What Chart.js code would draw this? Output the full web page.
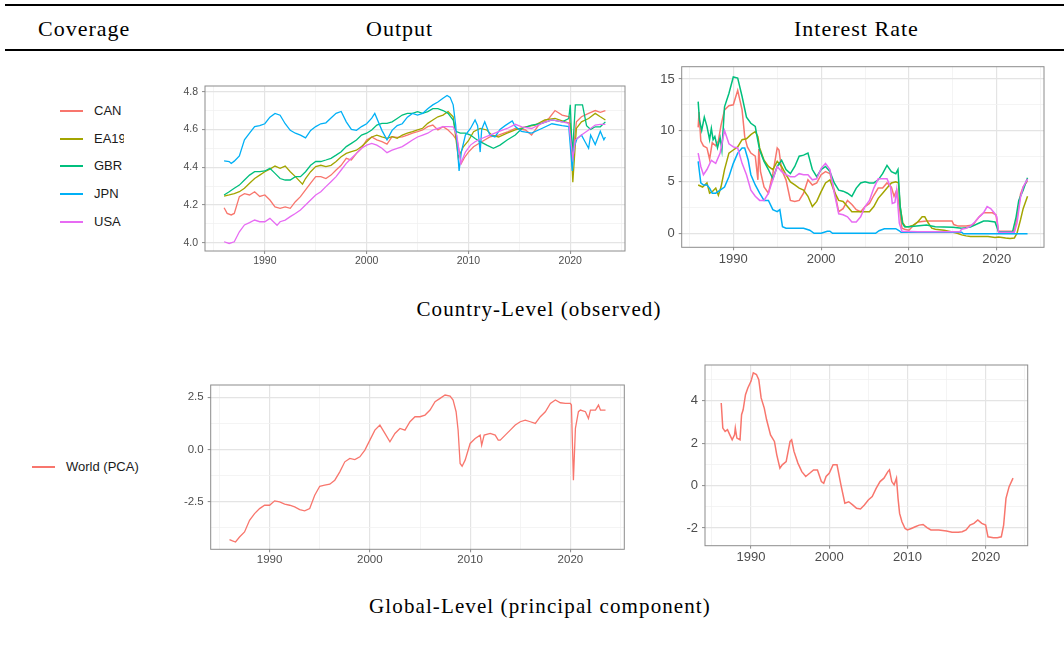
<!DOCTYPE html>
<html>
<head>
<meta charset="utf-8">
<script src="https://cdn.jsdelivr.net/npm/chart.js@4.4.1/dist/chart.umd.min.js"></script>
<style>
  body { margin: 0; background: #fff; width: 1064px; height: 659px; position: relative; overflow: hidden; font-family: "Liberation Serif", serif; }
  .rule { position: absolute; left: 5px; right: 0; background: #000; }
  .head, .caption { position: absolute; font-size: 21px; line-height: 21px; letter-spacing: 1.1px; color: #000; white-space: nowrap; }
  .head { font-size: 22px; line-height: 22px; letter-spacing: 1px; }
  .caption { transform: translateX(-50%); }
  canvas { position: absolute; }
  .legend { position: absolute; overflow: hidden; font-family: "Liberation Sans", sans-serif; font-size: 13px; color: #1a1a1a; }
  .legend .item { position: absolute; left: 0; height: 16px; width: 200px; }
  .legend .key { position: absolute; left: 0; top: 7px; width: 23px; height: 2px; }
  .legend .lab { position: absolute; left: 34px; top: 0; line-height: 16px; white-space: nowrap; }
</style>
</head>
<body>
<div class="rule" style="top:4px;height:2px"></div>
<div class="rule" style="top:49px;height:1.5px"></div>
<div class="head" style="left:38px;top:18px">Coverage</div>
<div class="head" style="left:366px;top:18px">Output</div>
<div class="head" style="left:794px;top:18px">Interest Rate</div>
<div class="caption" style="left:539px;top:299px">Country-Level (observed)</div>
<div class="caption" style="left:540px;top:596px">Global-Level (principal component)</div>

<div id="legendCountry" class="legend" style="left:60px;top:103px;width:64px;height:130px"></div>
<div id="legendWorld" class="legend" style="left:32px;top:459px;width:111px;height:18px"></div>

<canvas id="outCountry"></canvas>
<canvas id="rateCountry"></canvas>
<canvas id="outWorld"></canvas>
<canvas id="rateWorld"></canvas>

<script>
// ---- data ----
const countries = ['CAN', 'EA19', 'GBR', 'JPN', 'USA'];
const countryColors = ['#F8766D', '#A3A500', '#00BF7D', '#00B0F6', '#E76BF3'];
const worldName = 'World (PCA)';
const worldColor = '#F8766D';

// tick positions: every value gets a grid line, only the "labels" ones get text
const yearTicks = [1985, 1990, 1995, 2000, 2005, 2010, 2015, 2020, 2025];
const yearLabels = [1990, 2000, 2010, 2020];
const outputTicks = [4.0, 4.1, 4.2, 4.3, 4.4, 4.5, 4.6, 4.7, 4.8];
const outputLabels = [4.0, 4.2, 4.4, 4.6, 4.8];
const rateTicks = [0, 2.5, 5, 7.5, 10, 12.5, 15];
const rateLabels = [0, 5, 10, 15];
const pcaOutputTicks = [-3.75, -2.5, -1.25, 0, 1.25, 2.5];
const pcaOutputLabels = [-2.5, 0, 2.5];
const pcaRateTicks = [-2, -1, 0, 1, 2, 3, 4, 5];
const pcaRateLabels = [-2, 0, 2, 4];

// log output, [year, value]
const outputCAN = [[1986.0,4.185],[1986.3,4.155],[1986.7,4.147],[1987.0,4.155],[1987.5,4.244],[1988.0,4.26],[1988.5,4.253],[1989.0,4.27],[1989.5,4.245],[1990.0,4.253],[1990.5,4.226],[1991.0,4.19],[1991.5,4.182],[1992.0,4.19],[1992.5,4.182],[1993.0,4.217],[1993.5,4.244],[1994.0,4.28],[1994.5,4.315],[1995.0,4.35],[1995.5,4.35],[1996.0,4.34],[1996.5,4.358],[1997.0,4.385],[1997.5,4.41],[1998.0,4.447],[1998.5,4.438],[1999.0,4.473],[1999.5,4.50],[2000.0,4.544],[2000.5,4.56],[2001.0,4.545],[2001.5,4.535],[2002.0,4.522],[2002.5,4.562],[2003.0,4.558],[2003.5,4.56],[2004.0,4.57],[2004.5,4.58],[2005.0,4.588],[2005.5,4.597],[2006.0,4.615],[2006.5,4.623],[2007.0,4.597],[2007.5,4.615],[2008.0,4.597],[2008.5,4.57],[2008.9,4.54],[2009.3,4.42],[2009.6,4.45],[2010.0,4.48],[2010.5,4.508],[2011.3,4.535],[2012.1,4.56],[2012.95,4.57],[2013.9,4.588],[2014.6,4.605],[2015.6,4.597],[2016.2,4.57],[2016.9,4.623],[2017.9,4.658],[2018.5,4.70],[2019.2,4.676],[2019.9,4.667],[2020.25,4.47],[2020.6,4.64],[2021.1,4.667],[2021.8,4.685],[2022.45,4.70],[2022.95,4.69],[2023.45,4.70]];
const outputEA19 = [[1986.0,4.247],[1986.5,4.253],[1987.0,4.26],[1987.5,4.27],[1988.0,4.288],[1988.5,4.315],[1989.0,4.34],[1989.5,4.358],[1990.0,4.376],[1990.5,4.39],[1991.0,4.406],[1991.5,4.394],[1992.0,4.406],[1992.5,4.376],[1993.0,4.35],[1993.7,4.31],[1994.0,4.34],[1994.5,4.376],[1995.0,4.403],[1995.5,4.41],[1996.0,4.403],[1996.5,4.41],[1997.0,4.43],[1997.5,4.455],[1998.0,4.473],[1998.5,4.482],[1999.0,4.49],[1999.5,4.51],[2000.0,4.535],[2000.5,4.56],[2001.0,4.57],[2001.5,4.56],[2002.0,4.553],[2002.5,4.562],[2003.0,4.553],[2003.5,4.57],[2004.0,4.58],[2004.5,4.588],[2005.0,4.597],[2005.5,4.606],[2006.0,4.632],[2006.5,4.65],[2007.0,4.667],[2007.5,4.676],[2008.0,4.695],[2008.5,4.667],[2009.0,4.45],[2009.5,4.508],[2010.0,4.54],[2010.5,4.588],[2011.15,4.605],[2011.8,4.597],[2012.3,4.57],[2012.95,4.56],[2013.8,4.58],[2014.6,4.597],[2015.6,4.614],[2016.55,4.623],[2017.5,4.65],[2018.5,4.658],[2019.5,4.64],[2020.0,4.632],[2020.25,4.32],[2020.6,4.605],[2021.1,4.64],[2021.8,4.658],[2022.45,4.685],[2022.95,4.667],[2023.45,4.65]];
const outputGBR = [[1986.0,4.253],[1986.5,4.27],[1987.0,4.288],[1987.5,4.305],[1988.0,4.332],[1988.5,4.358],[1989.0,4.376],[1989.5,4.376],[1990.0,4.38],[1990.5,4.394],[1991.0,4.367],[1991.5,4.34],[1992.0,4.332],[1992.5,4.332],[1993.0,4.35],[1993.5,4.35],[1994.0,4.376],[1994.5,4.41],[1995.0,4.43],[1995.5,4.43],[1996.0,4.438],[1996.5,4.447],[1997.0,4.464],[1997.5,4.482],[1998.0,4.509],[1998.5,4.526],[1999.0,4.544],[1999.5,4.57],[2000.0,4.58],[2000.5,4.597],[2001.0,4.623],[2001.5,4.632],[2002.0,4.632],[2002.5,4.64],[2003.0,4.658],[2003.5,4.676],[2004.0,4.685],[2004.5,4.685],[2005.0,4.694],[2005.5,4.685],[2006.0,4.694],[2006.5,4.71],[2007.0,4.71],[2007.5,4.70],[2008.0,4.685],[2008.5,4.65],[2008.75,4.59],[2009.2,4.58],[2009.7,4.58],[2010.2,4.57],[2010.65,4.552],[2011.15,4.535],[2011.8,4.517],[2012.45,4.50],[2013.1,4.517],[2013.8,4.544],[2014.6,4.57],[2015.25,4.605],[2016.2,4.623],[2017.2,4.632],[2018.2,4.65],[2019.2,4.64],[2019.85,4.658],[2020.0,4.73],[2020.2,4.46],[2020.5,4.73],[2021.2,4.73],[2021.6,4.62],[2022.0,4.60],[2022.45,4.614],[2022.95,4.614],[2023.45,4.64]];
const outputJPN = [[1986.0,4.433],[1986.5,4.43],[1986.7,4.42],[1987.0,4.432],[1987.5,4.46],[1988.0,4.545],[1988.5,4.58],[1989.0,4.615],[1989.5,4.62],[1990.0,4.63],[1990.5,4.665],[1991.0,4.685],[1991.5,4.675],[1992.0,4.63],[1992.5,4.595],[1993.0,4.58],[1993.5,4.57],[1994.0,4.555],[1994.5,4.595],[1995.0,4.615],[1995.5,4.63],[1996.0,4.635],[1996.5,4.66],[1997.0,4.685],[1997.5,4.695],[1998.0,4.64],[1998.5,4.60],[1999.0,4.595],[1999.5,4.615],[2000.0,4.63],[2000.5,4.66],[2000.8,4.685],[2001.5,4.595],[2002.0,4.545],[2002.5,4.595],[2003.0,4.62],[2003.5,4.63],[2004.0,4.665],[2004.5,4.685],[2005.0,4.676],[2005.5,4.685],[2006.0,4.71],[2006.5,4.73],[2007.0,4.745],[2007.5,4.765],[2007.9,4.78],[2008.2,4.77],[2008.5,4.73],[2008.75,4.62],[2009.08,4.38],[2009.3,4.48],[2009.7,4.57],[2010.2,4.605],[2010.65,4.65],[2010.9,4.62],[2011.15,4.48],[2011.3,4.60],[2011.6,4.64],[2012.1,4.57],[2012.6,4.56],[2013.1,4.60],[2013.6,4.62],[2014.3,4.645],[2014.6,4.615],[2015.2,4.59],[2016.2,4.58],[2017.2,4.605],[2018.2,4.63],[2019.2,4.62],[2019.85,4.615],[2020.2,4.38],[2020.35,4.50],[2020.65,4.55],[2021.1,4.57],[2021.4,4.54],[2021.8,4.50],[2022.0,4.57],[2022.45,4.52],[2022.95,4.59],[2023.3,4.545],[2023.45,4.56]];
const outputUSA = [[1986.0,4.005],[1986.5,3.996],[1987.0,4.005],[1987.5,4.058],[1988.0,4.094],[1988.5,4.106],[1989.0,4.12],[1989.5,4.111],[1990.0,4.111],[1990.5,4.129],[1991.2,4.092],[1991.5,4.111],[1992.0,4.12],[1992.5,4.138],[1993.0,4.155],[1993.5,4.173],[1994.0,4.2],[1994.5,4.226],[1995.0,4.253],[1995.5,4.27],[1996.0,4.297],[1996.5,4.323],[1997.0,4.35],[1997.5,4.385],[1998.0,4.42],[1998.5,4.447],[1999.0,4.473],[1999.5,4.50],[2000.0,4.517],[2000.5,4.526],[2001.0,4.517],[2001.5,4.50],[2002.0,4.477],[2002.5,4.49],[2003.0,4.50],[2003.5,4.509],[2004.0,4.526],[2004.5,4.544],[2005.0,4.56],[2005.5,4.57],[2006.0,4.58],[2006.5,4.597],[2007.0,4.606],[2007.5,4.615],[2008.0,4.615],[2008.5,4.614],[2008.85,4.57],[2009.25,4.42],[2009.7,4.48],[2010.2,4.517],[2010.65,4.535],[2011.3,4.552],[2012.1,4.57],[2012.95,4.588],[2013.8,4.605],[2014.6,4.627],[2015.25,4.614],[2016.2,4.605],[2017.2,4.632],[2018.2,4.65],[2019.2,4.64],[2019.85,4.632],[2020.25,4.45],[2020.5,4.544],[2021.1,4.57],[2021.8,4.597],[2022.45,4.623],[2022.95,4.627],[2023.45,4.627]];

// short-term interest rates (%), [year, value]
const rateCAN = [[1986.0,10.3],[1986.1,11.8],[1986.3,9.0],[1986.6,8.5],[1987.0,8.3],[1987.3,7.2],[1987.6,8.8],[1988.0,8.5],[1988.3,9.0],[1988.6,10.5],[1989.0,12.0],[1989.5,12.4],[1990.0,12.5],[1990.5,13.9],[1991.0,12.0],[1991.3,9.4],[1991.6,8.4],[1992.0,7.8],[1992.5,7.5],[1992.8,5.2],[1992.9,8.2],[1993.1,6.0],[1993.5,4.5],[1994.0,3.9],[1994.5,5.8],[1995.0,8.3],[1995.2,8.1],[1995.5,6.2],[1996.0,5.2],[1996.5,3.2],[1997.0,3.1],[1997.5,3.2],[1998.0,3.9],[1998.5,5.2],[1999.0,4.7],[1999.5,4.9],[2000.0,5.7],[2000.5,6.0],[2001.0,5.8],[2001.5,4.2],[2002.0,2.1],[2002.5,2.4],[2003.0,3.2],[2003.5,2.8],[2004.0,2.3],[2004.5,2.1],[2005.0,2.6],[2005.5,2.9],[2006.0,3.7],[2006.5,4.4],[2007.0,4.4],[2007.5,4.9],[2008.0,4.5],[2008.3,3.6],[2008.6,4.2],[2008.9,2.6],[2009.2,0.5],[2009.5,0.4],[2010.0,0.3],[2010.5,0.75],[2011.0,1.1],[2012.0,1.2],[2013.0,1.2],[2014.0,1.2],[2014.9,1.2],[2015.1,0.85],[2015.6,0.7],[2016.5,0.7],[2017.3,0.8],[2017.7,1.3],[2018.0,1.6],[2018.5,2.0],[2019.0,2.0],[2019.5,2.0],[2019.9,1.8],[2020.2,0.2],[2021.0,0.2],[2022.0,0.2],[2022.3,1.5],[2022.7,3.8],[2023.0,4.5],[2023.5,5.1]];
const rateEA19 = [[1986.0,4.7],[1986.5,4.5],[1987.0,4.9],[1987.3,3.9],[1987.6,4.05],[1988.0,4.4],[1988.3,3.7],[1988.6,4.5],[1989.0,6.2],[1989.5,7.8],[1990.0,8.1],[1990.5,8.4],[1991.0,9.1],[1991.5,9.2],[1992.0,9.6],[1992.5,9.9],[1992.8,9.4],[1993.0,8.3],[1993.5,7.1],[1994.0,6.5],[1994.5,6.2],[1995.0,7.0],[1995.5,6.5],[1996.0,5.7],[1996.5,5.0],[1997.0,4.7],[1997.5,4.4],[1998.0,4.2],[1998.5,3.6],[1999.0,2.6],[1999.5,3.1],[2000.0,4.05],[2000.5,4.9],[2001.0,5.2],[2001.5,4.05],[2002.0,3.2],[2002.5,3.1],[2003.0,2.6],[2003.5,2.1],[2004.0,2.1],[2005.0,2.1],[2005.5,2.1],[2006.0,2.6],[2006.5,3.4],[2007.0,3.9],[2007.5,4.4],[2008.0,4.9],[2008.5,5.0],[2008.8,4.9],[2009.0,2.6],[2009.3,1.0],[2009.6,0.65],[2010.0,0.65],[2010.5,0.8],[2011.0,1.1],[2011.5,1.6],[2011.8,1.6],[2012.2,1.0],[2012.6,0.5],[2013.0,0.4],[2014.0,0.3],[2014.8,0.15],[2015.5,0.0],[2016.0,-0.15],[2016.5,-0.25],[2017.0,-0.32],[2019.0,-0.32],[2019.8,-0.4],[2020.2,-0.35],[2021.0,-0.45],[2021.5,-0.5],[2022.0,-0.45],[2022.3,0.0],[2022.7,1.3],[2023.0,2.4],[2023.5,3.6]];
const rateGBR = [[1986.0,12.8],[1986.15,11.0],[1986.4,10.0],[1986.7,11.3],[1987.0,10.4],[1987.3,9.1],[1987.5,10.2],[1987.7,9.1],[1987.9,9.4],[1988.2,8.3],[1988.5,9.3],[1988.7,8.1],[1989.0,12.3],[1989.5,13.6],[1990.0,15.2],[1990.5,15.1],[1991.0,13.3],[1991.5,11.3],[1992.0,10.7],[1992.5,10.4],[1992.75,9.2],[1993.0,8.1],[1993.5,7.0],[1994.0,6.2],[1994.5,5.3],[1995.0,6.5],[1995.5,7.1],[1996.0,6.2],[1996.5,5.8],[1997.0,6.5],[1997.5,7.5],[1998.0,7.6],[1998.5,7.8],[1999.0,6.2],[1999.5,5.5],[2000.0,6.2],[2000.5,6.5],[2001.0,6.0],[2001.5,4.9],[2002.0,4.2],[2002.5,4.1],[2003.0,3.9],[2003.5,3.6],[2004.0,4.4],[2004.5,4.9],[2005.0,5.0],[2005.5,4.9],[2006.0,4.9],[2006.5,5.2],[2007.0,5.8],[2007.5,6.6],[2008.0,6.0],[2008.5,5.8],[2008.75,6.2],[2009.0,2.6],[2009.25,1.0],[2009.5,0.65],[2010.0,0.65],[2012.0,0.8],[2013.0,0.65],[2015.0,0.6],[2016.0,0.5],[2017.0,0.6],[2018.0,1.0],[2018.5,1.2],[2019.0,1.2],[2019.8,1.1],[2020.2,0.15],[2021.0,0.15],[2021.8,0.15],[2022.2,1.6],[2022.5,3.2],[2023.0,4.2],[2023.5,5.4]];
const rateJPN = [[1986.0,7.0],[1986.3,4.9],[1986.6,4.7],[1987.0,4.7],[1987.3,4.4],[1987.6,3.9],[1988.0,3.9],[1988.5,4.2],[1989.0,4.5],[1989.5,5.5],[1990.0,6.8],[1990.5,7.8],[1991.0,8.3],[1991.3,8.3],[1991.7,7.1],[1992.0,5.7],[1992.5,4.7],[1993.0,3.9],[1993.5,3.2],[1994.0,3.2],[1994.5,2.3],[1995.0,2.1],[1995.3,2.3],[1995.6,0.65],[1996.0,0.5],[1998.0,0.5],[1998.7,0.3],[1999.2,0.0],[2000.0,0.0],[2000.7,0.2],[2001.0,0.2],[2001.3,0.0],[2006.2,0.0],[2006.6,0.25],[2007.2,0.45],[2008.5,0.45],[2008.9,0.25],[2009.1,0.1],[2016.0,0.1],[2016.2,-0.05],[2023.5,-0.05]];
const rateUSA = [[1986.0,7.8],[1986.3,6.5],[1986.6,5.7],[1987.0,6.2],[1987.5,7.1],[1988.0,6.8],[1988.5,7.8],[1989.0,10.0],[1989.5,8.7],[1990.0,8.4],[1990.5,8.3],[1991.0,6.8],[1991.5,5.7],[1992.0,4.2],[1992.5,3.6],[1993.0,3.2],[1993.5,3.2],[1994.0,3.9],[1994.5,5.2],[1995.0,6.5],[1995.5,6.0],[1996.0,5.7],[1996.5,5.5],[1997.0,5.5],[1997.5,5.8],[1998.0,5.7],[1998.5,5.7],[1999.0,5.2],[1999.5,5.3],[2000.0,6.3],[2000.5,6.8],[2001.0,6.2],[2001.5,3.9],[2002.0,1.9],[2002.5,1.8],[2003.0,1.6],[2003.5,1.1],[2004.0,1.1],[2004.5,1.6],[2005.0,2.6],[2005.5,3.2],[2006.0,4.4],[2006.5,5.3],[2007.0,5.3],[2007.5,5.3],[2007.9,4.5],[2008.1,2.9],[2008.4,3.0],[2008.6,4.2],[2008.9,1.0],[2009.2,0.2],[2011.0,0.15],[2015.8,0.15],[2016.0,0.4],[2016.5,0.5],[2017.0,0.7],[2017.5,1.1],[2018.0,1.6],[2018.5,2.0],[2018.9,2.6],[2019.3,2.4],[2019.7,2.0],[2020.0,1.6],[2020.2,0.1],[2022.0,0.1],[2022.3,1.0],[2022.7,3.5],[2023.0,4.5],[2023.5,5.3]];

// first principal component across countries
const worldOutput = [[1986.0,-4.32],[1986.3,-4.38],[1986.6,-4.43],[1987.0,-4.19],[1987.5,-3.95],[1988.0,-3.39],[1988.5,-3.07],[1989.0,-2.83],[1989.5,-2.67],[1990.0,-2.67],[1990.5,-2.46],[1991.0,-2.51],[1991.5,-2.62],[1992.0,-2.67],[1992.5,-2.75],[1993.0,-2.88],[1993.5,-2.94],[1994.0,-2.83],[1994.5,-2.19],[1995.0,-1.76],[1995.5,-1.71],[1996.0,-1.66],[1996.5,-1.47],[1997.0,-1.07],[1997.5,-0.59],[1998.0,-0.43],[1998.5,-0.48],[1999.0,-0.35],[1999.5,-0.03],[2000.0,0.45],[2000.5,0.93],[2001.0,1.17],[2001.5,0.77],[2002.0,0.37],[2002.5,0.77],[2003.0,1.01],[2003.5,0.93],[2004.0,1.33],[2004.5,1.57],[2005.0,1.57],[2005.5,1.65],[2006.0,1.89],[2006.5,2.29],[2007.0,2.45],[2007.5,2.61],[2008.0,2.56],[2008.3,2.37],[2008.6,1.81],[2008.8,0.93],[2009.0,-0.67],[2009.2,-0.80],[2009.5,-0.51],[2010.0,0.29],[2010.5,0.53],[2011.0,0.69],[2011.15,0.21],[2011.4,0.69],[2012.0,0.77],[2012.5,0.69],[2012.8,0.45],[2013.0,0.45],[2013.5,0.69],[2014.0,0.93],[2014.5,1.17],[2015.0,1.33],[2015.5,1.41],[2016.0,1.33],[2016.5,1.25],[2017.0,1.57],[2017.5,1.81],[2018.0,2.21],[2018.5,2.37],[2019.0,2.24],[2019.5,2.21],[2020.0,2.21],[2020.1,2.13],[2020.3,-1.47],[2020.5,1.01],[2020.8,1.81],[2021.0,1.89],[2021.5,1.81],[2021.8,1.49],[2022.0,1.89],[2022.5,1.89],[2022.8,2.13],[2023.0,1.89],[2023.5,1.89]];
const worldRate = [[1986.2,3.89],[1986.4,2.71],[1986.7,2.55],[1987.0,2.63],[1987.3,2.39],[1987.6,2.16],[1987.9,2.39],[1988.0,2.71],[1988.2,2.24],[1988.6,2.16],[1988.8,3.34],[1989.0,3.57],[1989.3,4.28],[1989.6,4.6],[1990.0,4.91],[1990.3,5.31],[1990.7,5.23],[1991.0,4.99],[1991.3,4.13],[1991.7,3.65],[1992.0,3.10],[1992.5,2.39],[1993.0,2.08],[1993.3,1.45],[1993.7,0.82],[1994.0,0.98],[1994.5,1.13],[1995.0,2.08],[1995.2,2.16],[1995.5,1.61],[1996.0,1.06],[1996.5,0.66],[1997.0,0.43],[1997.5,0.58],[1998.0,0.74],[1998.5,0.74],[1999.0,0.19],[1999.3,0.11],[1999.6,0.43],[2000.0,0.58],[2000.5,0.98],[2001.0,0.98],[2001.5,0.03],[2002.0,-0.83],[2002.5,-0.76],[2003.0,-0.91],[2003.5,-1.07],[2004.0,-1.10],[2004.5,-0.91],[2005.0,-0.68],[2005.5,-0.52],[2006.0,-0.13],[2006.5,0.19],[2007.0,0.35],[2007.5,0.66],[2007.7,0.74],[2008.0,0.19],[2008.3,0.03],[2008.6,0.35],[2008.8,-0.6],[2009.0,-1.31],[2009.3,-1.70],[2009.7,-2.02],[2010.0,-2.09],[2010.5,-2.02],[2011.0,-1.94],[2011.5,-1.86],[2012.0,-1.83],[2012.5,-1.98],[2013.0,-2.09],[2014.0,-2.09],[2015.0,-2.14],[2015.7,-2.2],[2016.5,-2.2],[2017.0,-2.17],[2017.5,-2.09],[2018.0,-1.86],[2018.5,-1.78],[2019.0,-1.62],[2019.5,-1.78],[2020.0,-1.86],[2020.3,-2.41],[2021.0,-2.46],[2021.5,-2.46],[2022.0,-2.41],[2022.3,-1.86],[2022.6,-0.6],[2023.0,-0.05],[2023.5,0.35]];

// ---- drawing ----
const GRID_MAJOR = '#e4e4e4';
const GRID_MINOR = '#f1f1f1';
const FRAME = '#8c8c8c';

// theme_bw style box around the plotting area
const panelFrame = {
    id: 'panelFrame',
    afterDatasetsDraw(chart) {
        const a = chart.chartArea;
        const ctx = chart.ctx;
        ctx.save();
        ctx.strokeStyle = FRAME;
        ctx.lineWidth = 1;
        ctx.strokeRect(a.left, a.top, a.right - a.left, a.bottom - a.top);
        ctx.restore();
    }
};

function axis(ticks, labels, decimals, fontSize, pad) {
    const isMajor = (v) => labels.includes(v);
    return {
        type: 'linear',
        afterBuildTicks: (s) => { s.ticks = ticks.map(v => ({ value: v })); },
        border: { display: false },
        grid: {
            color: (c) => isMajor(c.tick.value) ? GRID_MAJOR : GRID_MINOR,
            lineWidth: (c) => isMajor(c.tick.value) ? 1.2 : 0.8,
            tickColor: (c) => isMajor(c.tick.value) ? FRAME : 'rgba(0,0,0,0)',
            tickWidth: 1,
            tickLength: 3
        },
        ticks: {
            autoSkip: false,
            maxRotation: 0,
            padding: pad,
            color: '#4d4d4d',
            font: { family: 'Liberation Sans', size: fontSize },
            callback: (v) => isMajor(v) ? v.toFixed(decimals) : ''
        }
    };
}

// box = plotting-area rectangle on the page, everything else is laid out around it
function makePanel(id, box, series, colors, yRange, yTicks, yLabels, yDec, fontSize, lw) {
    const canvas = document.getElementById(id);
    const left = Math.floor(box.l) - 46;
    const top = Math.floor(box.t) - 14;
    const width = Math.ceil(box.r) + 5 - left;
    const height = Math.ceil(box.b) + 30 - top;
    canvas.width = width;
    canvas.height = height;
    canvas.style.left = left + 'px';
    canvas.style.top = top + 'px';

    const xAxis = axis(yearTicks, yearLabels, 0, fontSize, 1);
    xAxis.min = 1984.125;
    xAxis.max = 2025.375;
    xAxis.afterFit = (s) => { s.height = top + height - box.b; };

    const yAxis = axis(yTicks, yLabels, yDec, fontSize, 4);
    yAxis.min = yRange[0];
    yAxis.max = yRange[1];
    yAxis.afterFit = (s) => { s.width = box.l - left; };

    new Chart(canvas, {
        type: 'line',
        data: {
            datasets: series.map((s, i) => ({
                data: s.map(p => ({ x: p[0], y: p[1] })),
                borderColor: colors[i],
                borderWidth: lw,
                pointRadius: 0,
                tension: 0,
                fill: false,
                order: series.length - 1 - i
            }))
        },
        options: {
            responsive: false,
            animation: false,
            events: [],
            layout: { padding: { top: box.t - top, right: left + width - box.r, left: 0, bottom: 0 } },
            plugins: { legend: { display: false }, tooltip: { enabled: false } },
            scales: { x: xAxis, y: yAxis }
        },
        plugins: [panelFrame]
    });
}

function makeLegend(id, names, colors, gap) {
    const el = document.getElementById(id);
    names.forEach((name, i) => {
        const item = document.createElement('div');
        item.className = 'item';
        item.style.top = (i * gap) + 'px';
        item.innerHTML = '<div class="key" style="background:' + colors[i] + '"></div><div class="lab">' + name + '</div>';
        el.appendChild(item);
    });
}

makePanel('outCountry', { l: 205, t: 86, r: 625, b: 251 },
    [outputCAN, outputEA19, outputGBR, outputJPN, outputUSA], countryColors,
    [3.956, 4.83], outputTicks, outputLabels, 1, 10.5, 1.3);
makePanel('rateCountry', { l: 681.7, t: 66.7, r: 1044, b: 247.3 },
    [rateCAN, rateEA19, rateGBR, rateJPN, rateUSA], countryColors,
    [-1.36, 16.2], rateTicks, rateLabels, 0, 13, 1.5);
makePanel('outWorld', { l: 210.7, t: 385, r: 624.3, b: 549.3 },
    [worldOutput], [worldColor],
    [-4.78, 3.09], pcaOutputTicks, pcaOutputLabels, 1, 11.5, 1.3);
makePanel('rateWorld', { l: 705, t: 365, r: 1027.7, b: 545.7 },
    [worldRate], [worldColor],
    [-2.83, 5.68], pcaRateTicks, pcaRateLabels, 0, 13, 1.5);

makeLegend('legendCountry', countries, countryColors, 27.7);
makeLegend('legendWorld', [worldName], [worldColor], 0);
</script>
</body>
</html>
